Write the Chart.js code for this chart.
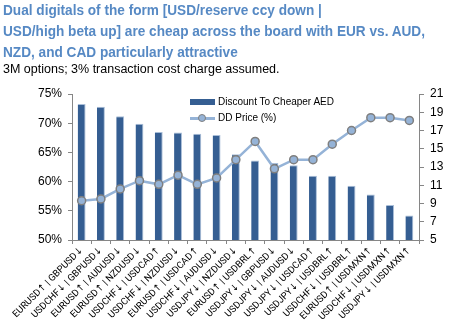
<!DOCTYPE html>
<html>
<head>
<meta charset="utf-8">
<script src="https://cdn.jsdelivr.net/npm/chart.js@4"></script>
<style>
    body { margin: 0; background: #fff; }
    #wrap { position: relative; width: 450px; height: 329px; overflow: hidden; font-family: 'Liberation Sans', Arial, sans-serif; }
    #title { position: absolute; left: 3px; top: 0; font-weight: bold; font-size: 14.5px; line-height: 21px; color: #5689C4; white-space: nowrap; transform-origin: 0 0; }
    #title span { display: inline-block; }
    #subtitle { position: absolute; left: 3px; top: 62px; font-size: 12.5px; line-height: 15px; color: #000; white-space: nowrap; }
    #chart { position: absolute; left: 0; top: 0; }
    .leg { position: absolute; font-size: 10px; line-height: 12px; color: #000; white-space: nowrap; }
    .leg .bar { position: absolute; left: -28px; top: 3px; width: 25px; height: 6px; background: #355E92; }
    .leg .line { position: absolute; left: -28px; top: 5px; width: 25px; height: 2.5px; background: #95B3D7; }
    .leg .dot { position: absolute; left: -20px; top: 2px; width: 6px; height: 6px; border-radius: 50%; background: #95B3D7; border: 1.5px solid #7F7F7F; }
</style>
</head>
<body>
<div id="wrap">
    <canvas id="chart" width="450" height="329"></canvas>
    <div id="title"><span>Dual digitals of the form [USD/reserve ccy down |</span><br><span id="longest">USD/high beta up] are cheap across the board with EUR vs. AUD,</span><br><span>NZD, and CAD particularly attractive</span></div>
    <div id="subtitle">3M options; 3% transaction cost charge assumed.</div>
    <div class="leg" style="left:218px; top:96px;"><span class="bar"></span>Discount To Cheaper AED</div>
    <div class="leg" style="left:218px; top:112px;"><span class="line"></span><span class="dot"></span>DD Price (%)</div>
</div>
<script>
const pairs = [
    'EURUSD↑ | GBPUSD↓', 'USDCHF↓ | GBPUSD↓', 'EURUSD↑ | AUDUSD↓', 'EURUSD↑ | NZDUSD↓',
    'USDCHF↓ | USDCAD↑', 'USDCHF↓ | NZDUSD↓', 'EURUSD↑ | USDCAD↑', 'USDCHF↓ | AUDUSD↓',
    'USDJPY↓ | NZDUSD↓', 'EURUSD↑ | USDBRL↑', 'USDJPY↓ | GBPUSD↓', 'USDJPY↓ | AUDUSD↓',
    'USDJPY↓ | USDCAD↑', 'USDJPY↓ | USDBRL↑', 'USDCHF↓ | USDBRL↑', 'EURUSD↑ | USDMXN↑',
    'USDCHF↓ | USDMXN↑', 'USDJPY↓ | USDMXN↑'
];
// discount to cheaper AED, in percent (left axis)
const discount = [73.3, 72.8, 71.2, 69.9, 68.5, 68.4, 68.2, 68.0, 64.7, 63.6, 63.2, 62.8, 61.0, 61.0, 59.3, 57.8, 56.0, 54.2];
// dual digital price, in percent (right axis)
const ddPrice = [9.3, 9.5, 10.6, 11.5, 11.1, 12.1, 11.1, 11.8, 13.8, 15.8, 12.8, 13.8, 13.8, 15.5, 17.0, 18.4, 18.4, 18.1];
const leftTicks = { min: 50, max: 75, step: 5 };
const rightTicks = { min: 5, max: 21, step: 2 };

// squeeze the title to the narrow width of the original
const title = document.getElementById('title');
const w = document.getElementById('longest').getBoundingClientRect().width;
title.style.transform = 'scaleX(' + (422 / w) + ')';

const axisGrey = '#868686';
const tickFont = { family: "'Liberation Sans', Arial, sans-serif", size: 12 };

new Chart(document.getElementById('chart').getContext('2d'), {
    type: 'bar',
    data: {
        labels: pairs,
        datasets: [
            {
                type: 'line',
                label: 'DD Price (%)',
                data: ddPrice,
                yAxisID: 'y1',
                borderColor: '#95B3D7',
                borderWidth: 2.5,
                pointRadius: 4,
                pointBackgroundColor: '#95B3D7',
                pointBorderColor: '#7F7F7F',
                pointBorderWidth: 1.5,
                tension: 0,
                order: 0
            },
            {
                label: 'Discount To Cheaper AED',
                data: discount,
                yAxisID: 'y',
                backgroundColor: '#355E92',
                borderColor: '#A9BED8',
                borderWidth: { top: 1, right: 1, left: 0, bottom: 0 },
                categoryPercentage: 1,
                barPercentage: 0.41,
                order: 1
            }
        ]
    },
    options: {
        responsive: false,
        animation: false,
        layout: { padding: { top: 94, left: 0, right: 0, bottom: 0 } },
        plugins: { legend: { display: false }, tooltip: { enabled: false } },
        scales: {
            x: {
                offset: true,
                grid: { offset: true, drawOnChartArea: false, color: axisGrey, tickLength: 4 },
                border: { color: axisGrey },
                ticks: {
                    color: '#000', autoSkip: false, minRotation: 45, maxRotation: 45, padding: 1,
                    font: { family: "Roboto, 'DejaVu Sans', sans-serif", size: 9.5 }
                },
                afterFit: s => { s.height = 89; }
            },
            y: {
                position: 'left',
                min: leftTicks.min, max: leftTicks.max,
                grid: { drawOnChartArea: false, color: axisGrey, tickLength: 4 },
                border: { color: axisGrey },
                ticks: { stepSize: leftTicks.step, color: '#000', padding: 6, font: tickFont, callback: v => v + '%' },
                afterFit: s => { s.width = 72; }
            },
            y1: {
                position: 'right',
                min: rightTicks.min, max: rightTicks.max,
                grid: { drawOnChartArea: false, color: axisGrey, tickLength: 5 },
                border: { color: axisGrey },
                ticks: { stepSize: rightTicks.step, color: '#000', padding: 6, font: tickFont },
                afterFit: s => { s.width = 31; }
            }
        }
    }
});
</script>
</body>
</html>
